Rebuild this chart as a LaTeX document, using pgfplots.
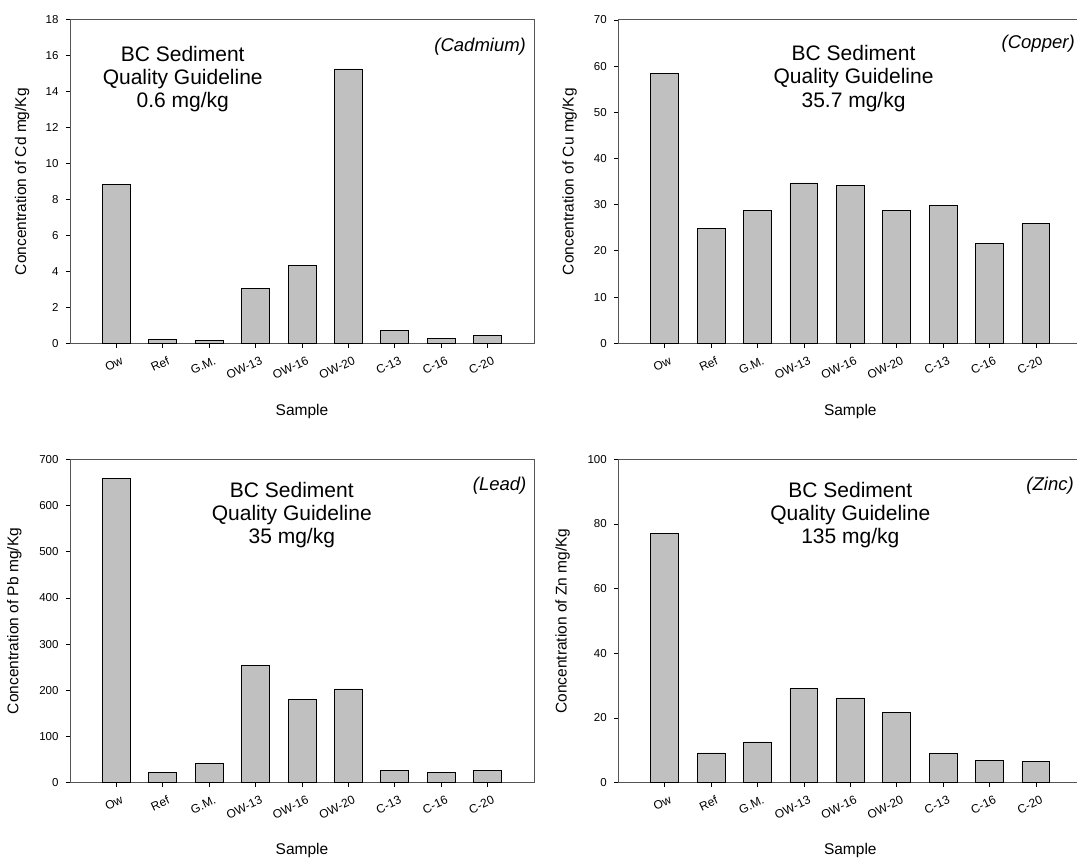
\documentclass[border=0pt]{standalone}
\usepackage{fontspec}
\setmainfont{Liberation Sans}
\usepackage{pgfplots}
\pgfplotsset{compat=1.18}
\definecolor{barfill}{HTML}{C0C0C0}
\definecolor{axgray}{HTML}{555555}
\pgfplotsset{
 panel/.style={
  scale only axis, width=464pt, height=323.4pt, anchor=south west,
  xmin=-1, xmax=9, ymin=0,
  xtick={0,1,2,3,4,5,6,7,8},
  xticklabels={Ow,Ref,G.M.,OW-13,OW-16,OW-20,C-13,C-16,C-20},
  tick align=outside, tick pos=left, major tick length=4.5pt,
  axis line style={draw=axgray, line width=0.9pt},
  every tick/.style={black, line width=0.8pt},
  /pgf/number format/assume math mode=true,
  yticklabel style={font=\fontsize{11.5}{13}\selectfont, xshift=-3.5pt},
  xticklabel style={font=\fontsize{12}{14}\selectfont, xshift=4pt, yshift=-8pt, rotate=25, anchor=north east, inner sep=0pt},
  xlabel={Sample},
  xlabel style={font=\fontsize{15.5}{18}\selectfont, at={(axis description cs:0.5,-0.21)}, anchor=center},
  ylabel style={font=\fontsize{15.5}{18}\selectfont, anchor=center},
  clip=false,
 },
 bars/.style={ybar, bar width=0.6, fill=barfill, draw=black, line width=0.8pt},
}
\tikzset{
 guide/.style={align=center, anchor=north, inner sep=0pt, font=\fontsize{21}{23.3}\selectfont},
 metal/.style={anchor=base east, inner sep=0pt, font=\fontsize{18.5}{21}\selectfont\itshape},
}
\begin{document}
\begin{tikzpicture}
\useasboundingbox (0,0) rectangle (1077pt,860pt);
% Cadmium
\begin{axis}[panel, at={(70pt,516.7pt)}, ymax=18, ytick={0,2,...,18},
  ylabel={Concentration of Cd mg/Kg}, ylabel style={at={(axis description cs:-0.103,0.5)}}]
\addplot[bars] coordinates {(0,8.85) (1,0.19) (2,0.15) (3,3.06) (4,4.32) (5,15.27) (6,0.70) (7,0.26) (8,0.45)};
\node[guide] at (rel axis cs:0.243,0.920) {BC Sediment\\Quality Guideline\\0.6 mg/kg};
\node[metal] at (rel axis cs:0.983,0.901) {(Cadmium)};
\end{axis}
% Copper
\begin{axis}[panel, at={(618.3pt,516.7pt)}, ymax=70, ytick={0,10,...,70},
  ylabel={Concentration of Cu mg/Kg}, ylabel style={at={(axis description cs:-0.105,0.5)}}]
\addplot[bars] coordinates {(0,58.4) (1,24.9) (2,28.8) (3,34.7) (4,34.2) (5,28.8) (6,29.8) (7,21.6) (8,25.9)};
\node[guide] at (rel axis cs:0.507,0.922) {BC Sediment\\Quality Guideline\\35.7 mg/kg};
\node[metal] at (rel axis cs:0.984,0.912) {(Copper)};
\end{axis}
% Lead
\begin{axis}[panel, at={(70pt,77.3pt)}, ymax=700, ytick={0,100,...,700},
  ylabel={Concentration of Pb mg/Kg}, ylabel style={at={(axis description cs:-0.12,0.5)}}]
\addplot[bars] coordinates {(0,658) (1,22.4) (2,41.8) (3,254) (4,180) (5,203) (6,26.7) (7,21.6) (8,26)};
\node[guide] at (rel axis cs:0.478,0.931) {BC Sediment\\Quality Guideline\\35 mg/kg};
\node[metal] at (rel axis cs:0.984,0.903) {(Lead)};
\end{axis}
% Zinc
\begin{axis}[panel, at={(618.3pt,77.3pt)}, ymax=100, ytick={0,20,...,100},
  ylabel={Concentration of Zn mg/Kg}, ylabel style={at={(axis description cs:-0.12,0.5)}}]
\addplot[bars] coordinates {(0,77.1) (1,9.2) (2,12.6) (3,29.1) (4,26.2) (5,21.6) (6,9.0) (7,7.0) (8,6.7)};
\node[guide] at (rel axis cs:0.50,0.931) {BC Sediment\\Quality Guideline\\135 mg/kg};
\node[metal] at (rel axis cs:0.982,0.905) {(Zinc)};
\end{axis}
\end{tikzpicture}
\end{document}
